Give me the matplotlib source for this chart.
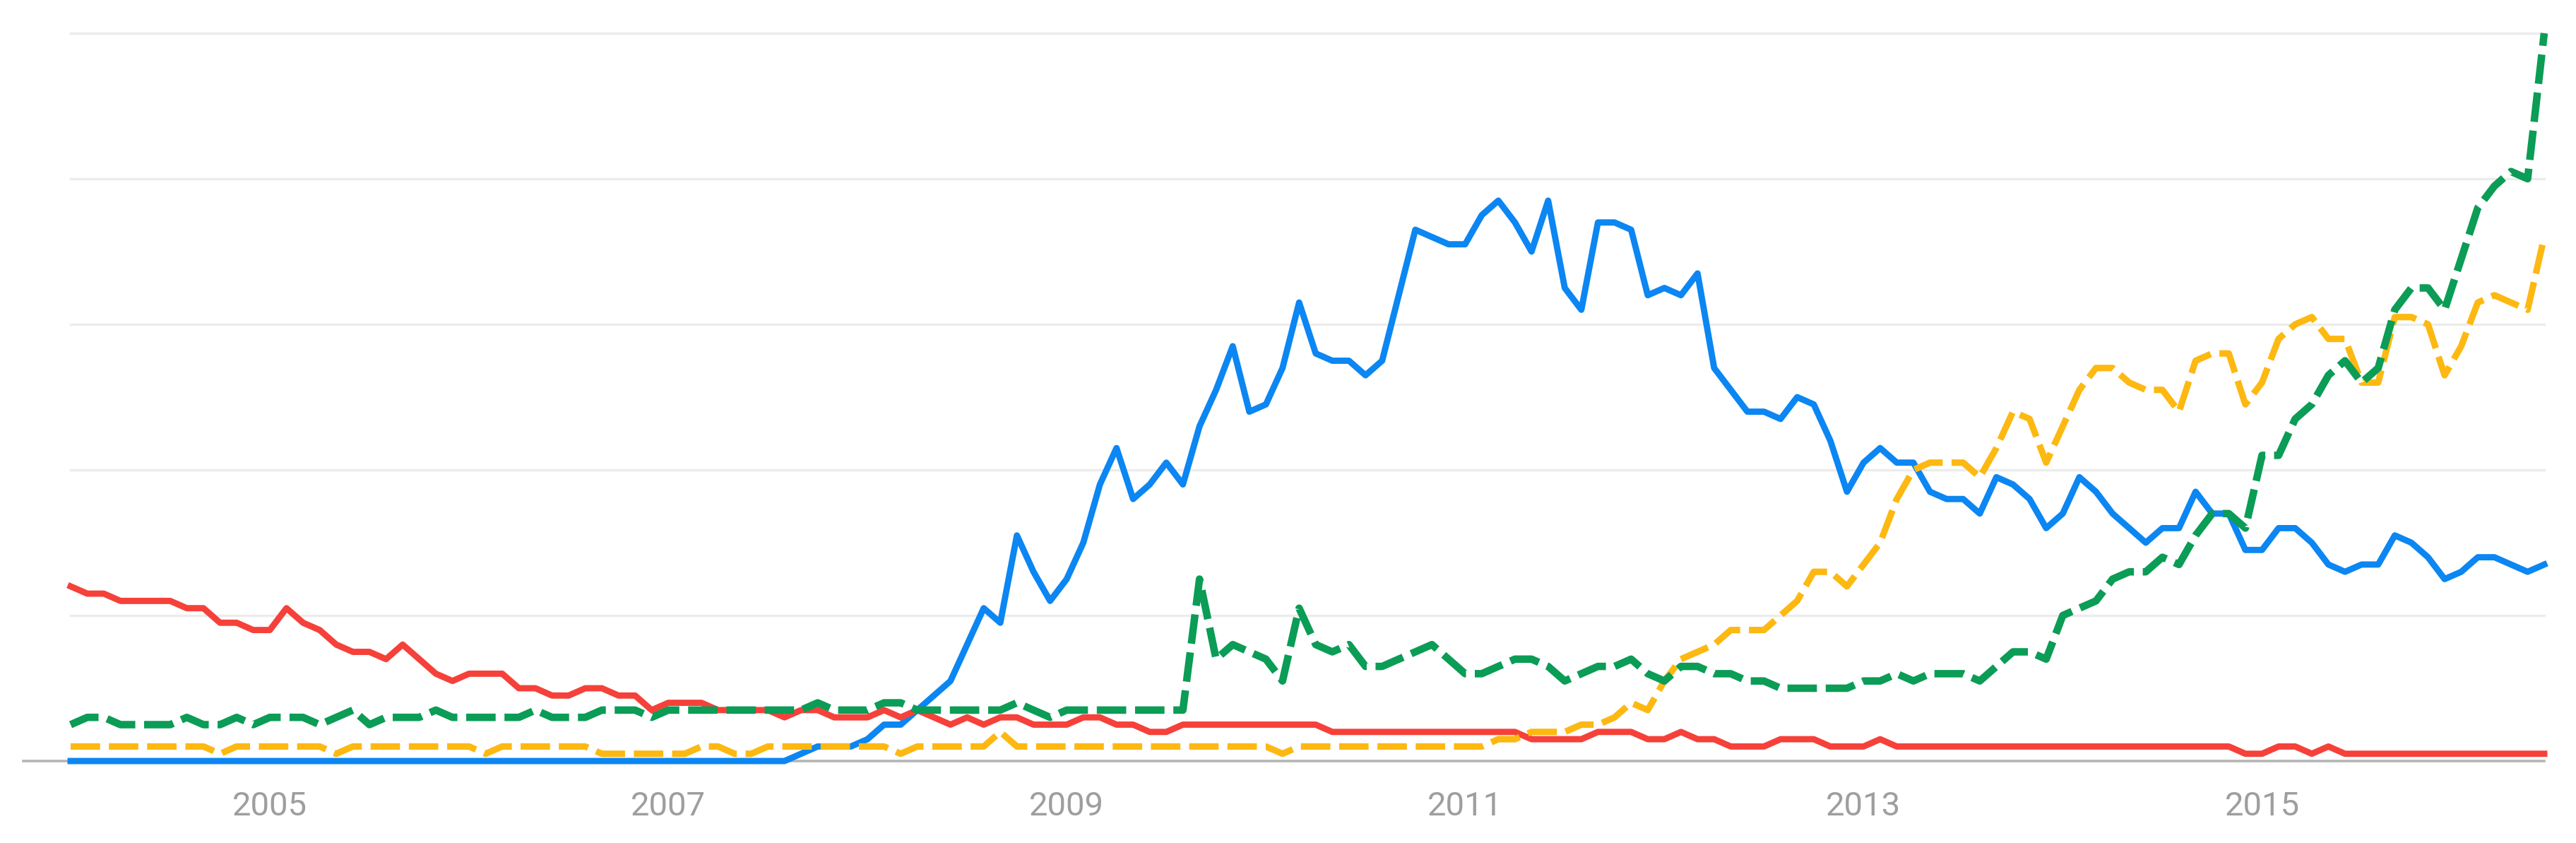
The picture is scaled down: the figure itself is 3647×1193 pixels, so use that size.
import matplotlib
matplotlib.use("Agg")
import matplotlib.pyplot as plt
import numpy as np

# monthly interest values, Jan 2004 .. Jun 2016 (150 points)
blue_vals = [0] * 44 + [
    1, 2, 2, 2, 3, 5, 5, 7, 9, 11, 16, 21, 19, 31, 26, 22,
    25, 30, 38, 43, 36, 38, 41, 38, 46, 51, 57, 48,
    49, 54, 63, 56, 55, 55, 53, 55, 64, 73, 72, 71,
    71, 75, 77, 74, 70, 77, 65, 62, 74, 74, 73, 64,
    65, 64, 67, 54, 51, 48, 48, 47, 50, 49, 44, 37,
    41, 43, 41, 41, 37, 36, 36, 34, 39, 38, 36, 32,
    34, 39, 37, 34, 32, 30, 32, 32, 37, 34, 34, 29,
    29, 32, 32, 30, 27, 26, 27, 27, 31, 30, 28, 25,
    26, 28, 28, 27, 26, 27,
]

red_vals = [
    24, 23, 23, 22, 22, 22, 22, 21, 21, 19, 19, 18, 18,
    21, 19, 18, 16, 15, 15, 14, 16, 14, 12, 11, 12,
    12, 12, 10, 10, 9, 9, 10, 10, 9, 9, 7, 8,
    8, 8, 7, 7, 7, 7, 6, 7, 7, 6, 6, 6,
    7, 6, 7, 6, 5, 6, 5, 6, 6, 5, 5, 5,
    6, 6, 5, 5, 4, 4, 5, 5, 5, 5, 5, 5,
    5, 5, 5, 4, 4, 4, 4, 4, 4, 4, 4, 4,
    4, 4, 4, 3, 3, 3, 3, 4, 4, 4, 3, 3,
    4, 3, 3, 2, 2, 2, 3, 3, 3, 2, 2, 2,
    3, 2, 2, 2, 2, 2, 2, 2, 2, 2, 2, 2,
    2, 2, 2, 2, 2, 2, 2, 2, 2, 2, 1, 1,
    2, 2, 1, 2, 1, 1, 1, 1, 1, 1, 1, 1,
    1, 1, 1, 1, 1,
]

yellow_vals = [
    2, 2, 2, 2, 2, 2, 2, 2, 2, 1, 2, 2, 2,
    2, 2, 2, 1, 2, 2, 2, 2, 2, 2, 2, 2,
    1, 2, 2, 2, 2, 2, 2, 1, 1, 1, 1, 1,
    1, 2, 2, 1, 1, 2, 2, 2, 2, 2, 2, 2,
    2, 1, 2, 2, 2, 2, 2, 4, 2, 2, 2, 2,
    2, 2, 2, 2, 2, 2, 2, 2, 2, 2, 2, 2,
    1, 2, 2, 2, 2, 2, 2, 2, 2, 2, 2, 2,
    2, 3, 3, 4, 4, 4, 5, 5, 6, 8, 7, 11,
    14, 15, 16, 18, 18, 18, 20, 22, 26, 26, 24, 27,
    30, 36, 40, 41, 41, 41, 39, 43, 48, 47, 41, 46,
    51, 54, 54, 52, 51, 51, 48, 55, 56, 56, 49, 52,
    58, 60, 61, 58, 58, 52, 52, 61, 61, 60, 53, 57,
    63, 64, 63, 62, 72,
]

green_vals = [
    5, 6, 6, 5, 5, 5, 5, 6, 5, 5, 6, 5, 6,
    6, 6, 5, 6, 7, 5, 6, 6, 6, 7, 6, 6,
    6, 6, 6, 7, 6, 6, 6, 7, 7, 7, 6, 7,
    7, 7, 7, 7, 7, 7, 7, 7, 8, 7, 7, 7,
    8, 8, 7, 7, 7, 7, 7, 7, 8, 7, 6, 7,
    7, 7, 7, 7, 7, 7, 7, 25, 14, 16, 15, 14,
    11, 21, 16, 15, 16, 13, 13, 14, 15, 16, 14, 12,
    12, 13, 14, 14, 13, 11, 12, 13, 13, 14, 12, 11,
    13, 13, 12, 12, 11, 11, 10, 10, 10, 10, 10, 11,
    11, 12, 11, 12, 12, 12, 11, 13, 15, 15, 14, 20,
    21, 22, 25, 26, 26, 28, 27, 31, 34, 34, 32, 42,
    42, 47, 49, 53, 55, 52, 54, 62, 65, 65, 62, 69,
    76, 79, 81, 80, 100,
]

year_ticks = [2005, 2007, 2009, 2011, 2013, 2015]
grid_levels = [20, 40, 60, 80, 100]

months = 2004 + np.arange(len(blue_vals)) / 12.0

plt.rcParams['font.family'] = ['Roboto', 'DejaVu Sans']
plt.rcParams['lines.scale_dashes'] = False

fig = plt.figure(figsize=(36.48, 11.93), dpi=100)
ax = fig.add_axes([100 / 3648, 116 / 1193, 3502 / 3648, 1030 / 1193])

# light horizontal grid
for g in grid_levels:
    ax.axhline(g, color='#ececec', lw=2.4, zorder=0, clip_on=False)
# baseline, sticks out a little to the left
ax.plot([-0.019, 1.0], [0, 0], transform=ax.get_yaxis_transform(),
        color='#b5b5b5', lw=2.6, clip_on=False, zorder=1)

ax.plot(months, blue_vals, color='#0b86f2', lw=6.4, solid_joinstyle='round',
        clip_on=False, zorder=2)
ax.plot(months, red_vals, color='#f5413a', lw=6.4, solid_joinstyle='round',
        clip_on=False, zorder=3)
ax.plot(months, yellow_vals, color='#fdb811', lw=6.6, dashes=(30, 9),
        dash_capstyle='butt', dash_joinstyle='round', clip_on=False, zorder=4)
ax.plot(months, green_vals, color='#0b9c56', lw=7.6, dashes=(30, 9),
        dash_capstyle='butt', dash_joinstyle='round', clip_on=False, zorder=5)

ax.set_xlim(months[0], months[-1])
ax.set_ylim(0, 100)
ax.set_xticks(year_ticks)
ax.set_xticklabels([str(y) for y in year_ticks])
ax.set_yticks([])
ax.tick_params(axis='x', length=0, pad=30, labelsize=34, labelcolor='#9e9e9e')
for s in ax.spines.values():
    s.set_visible(False)

fig.savefig('out.png', dpi=100, facecolor='white')
